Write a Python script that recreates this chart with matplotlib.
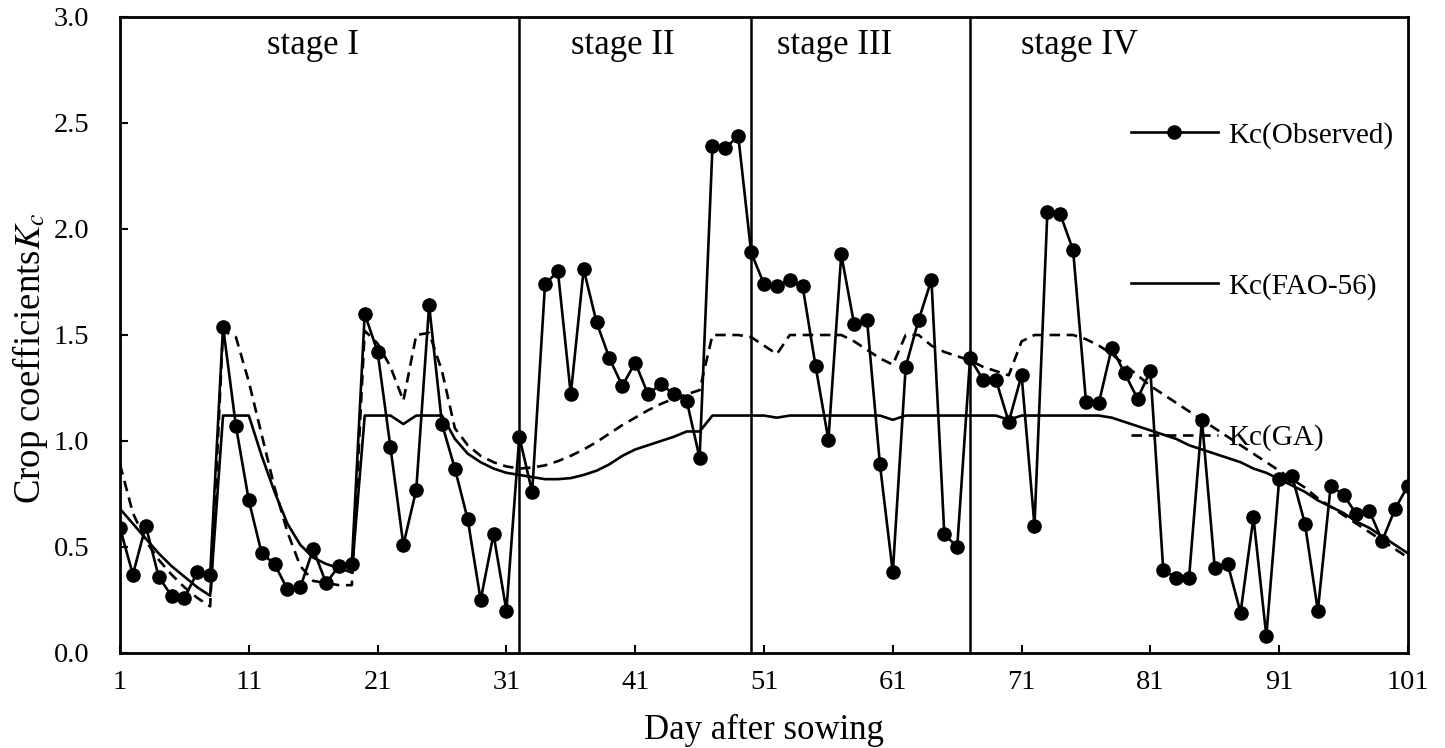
import matplotlib
matplotlib.use("Agg")
import matplotlib.pyplot as plt
import numpy as np

days = list(range(1, 102))

kc_observed = [0.59, 0.37, 0.60, 0.36, 0.27, 0.26, 0.38, 0.37, 1.54, 1.07,
               0.72, 0.47, 0.42, 0.30, 0.31, 0.49, 0.33, 0.41, 0.42, 1.60,
               1.42, 0.97, 0.51, 0.77, 1.64, 1.08, 0.87, 0.63, 0.25, 0.56,
               0.20, 1.02, 0.76, 1.74, 1.80, 1.22, 1.81, 1.56, 1.39, 1.26,
               1.37, 1.22, 1.27, 1.22, 1.19, 0.92, 2.39, 2.38, 2.44, 1.89,
               1.74, 1.73, 1.76, 1.73, 1.355, 1.005, 1.88, 1.55, 1.57, 0.89,
               0.38, 1.35, 1.57, 1.76, 0.56, 0.50, 1.39, 1.29, 1.29, 1.09,
               1.31, 0.60, 2.08, 2.07, 1.90, 1.185, 1.18, 1.44, 1.32, 1.20,
               1.33, 0.39, 0.355, 0.355, 1.10, 0.40, 0.42, 0.19, 0.64, 0.08,
               0.82, 0.835, 0.61, 0.20, 0.79, 0.745, 0.655, 0.67, 0.53, 0.68,
               0.79]

kc_fao56 = [0.68, 0.61, 0.54, 0.47, 0.41, 0.36, 0.31, 0.27, 1.12, 1.12,
            1.12, 0.93, 0.76, 0.61, 0.51, 0.45, 0.42, 0.40, 0.38, 1.12,
            1.12, 1.12, 1.08, 1.12, 1.12, 1.12, 1.01, 0.94, 0.90, 0.87,
            0.85, 0.84, 0.83, 0.82, 0.82, 0.825, 0.84, 0.86, 0.89, 0.93,
            0.96, 0.98, 1.00, 1.02, 1.045, 1.045, 1.12, 1.12, 1.12, 1.12,
            1.12, 1.11, 1.12, 1.12, 1.12, 1.12, 1.12, 1.12, 1.12, 1.12,
            1.10, 1.12, 1.12, 1.12, 1.12, 1.12, 1.12, 1.12, 1.12, 1.10,
            1.12, 1.12, 1.12, 1.12, 1.12, 1.12, 1.12, 1.11, 1.09, 1.07,
            1.05, 1.03, 1.01, 0.98, 0.96, 0.94, 0.92, 0.90, 0.87, 0.85,
            0.82, 0.79, 0.76, 0.72, 0.69, 0.66, 0.62, 0.59, 0.55, 0.51,
            0.47]

kc_ga = [0.89, 0.66, 0.53, 0.44, 0.37, 0.31, 0.26, 0.22, 1.52, 1.49,
         1.28, 1.03, 0.78, 0.57, 0.41, 0.34, 0.33, 0.32, 0.32, 1.52,
         1.46, 1.35, 1.19, 1.50, 1.51, 1.33, 1.06, 0.98, 0.93, 0.90,
         0.88, 0.87, 0.875, 0.885, 0.905, 0.93, 0.96, 0.995, 1.035, 1.075,
         1.11, 1.145, 1.175, 1.20, 1.22, 1.24, 1.50, 1.50, 1.50, 1.49,
         1.45, 1.41, 1.50, 1.50, 1.50, 1.50, 1.50, 1.47, 1.43, 1.39,
         1.36, 1.50, 1.50, 1.45, 1.42, 1.40, 1.38, 1.35, 1.33, 1.31,
         1.47, 1.50, 1.50, 1.50, 1.50, 1.48, 1.45, 1.41, 1.36, 1.31,
         1.26, 1.22, 1.18, 1.14, 1.10, 1.06, 1.02, 0.98, 0.94, 0.90,
         0.86, 0.82, 0.78, 0.73, 0.69, 0.65, 0.61, 0.57, 0.53, 0.49,
         0.45]

stage_bounds = [32, 50, 67]
stage_labels = ["stage I", "stage II", "stage III", "stage IV"]
stage_label_x = [16, 40, 56.5, 75.5]

x_ticks = list(range(1, 102, 10))
y_ticks = [0.0, 0.5, 1.0, 1.5, 2.0, 2.5, 3.0]

plt.rcParams['font.family'] = ['Liberation Serif', 'DejaVu Serif']
plt.rcParams['mathtext.fontset'] = 'stix'

fig = plt.figure(figsize=(14.45, 7.48), dpi=100)
ax = fig.add_axes([120/1445, 95/748, (1408-120)/1445, (653-17)/748])

ax.plot(days, kc_observed, color='black', lw=1.9, marker='o', ms=9.5,
        label='Kc(Observed)', zorder=4)
ax.plot(days, kc_fao56, color='black', lw=1.9, ls='-', label='Kc(FAO-56)', zorder=3)
ax.plot(days, kc_ga, color='black', lw=1.9, ls=(0, (4, 2.5)), label='Kc(GA)', zorder=3)

for b in stage_bounds:
    ax.axvline(b, color='black', lw=1.8, zorder=2)

for lab, xl in zip(stage_labels, stage_label_x):
    ax.text(xl, 2.865, lab, ha='center', va='center', fontsize=25)

ax.set_xlim(1, 101)
ax.set_ylim(0, 3)
ax.set_xticks(x_ticks)
ax.set_yticks(y_ticks)
ax.set_yticklabels([f"{v:.1f}" for v in y_ticks])
ax.tick_params(axis='both', direction='in', length=6, width=1.5, labelsize=20.5)
ax.tick_params(axis='x', pad=12)
ax.tick_params(axis='y', pad=22)
for s in ax.spines.values():
    s.set_linewidth(2)

ax.set_xlabel('Day after sowing', fontsize=25)
ax.xaxis.set_label_coords(0.5, (653 - 730) / 636, transform=ax.transAxes)
ax.xaxis.label.set_va('center')
ax.set_ylabel('Crop coefficients$K_c$', fontsize=26.5)
ax.yaxis.set_label_coords((30 - 120) / 1288, (653 - 358) / 636, transform=ax.transAxes)
ax.yaxis.label.set_va('center')

leg = ax.legend(loc='upper right', bbox_to_anchor=(1.0, 0.858), frameon=False,
                fontsize=21, handlelength=3.0, handletextpad=0.35,
                labelspacing=4.26, borderaxespad=0.1)

fig.savefig('out.png', dpi=100)
